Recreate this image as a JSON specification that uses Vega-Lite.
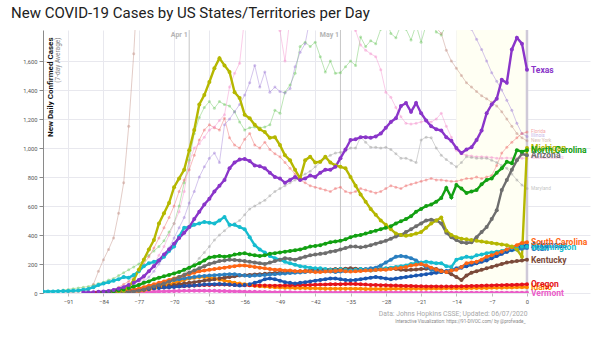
{
 "$schema": "https://vega.github.io/schema/vega-lite/v6.json",
 "width": 547, "height": 263,
 "autosize": {"type": "none"},
 "padding": {"left": 43, "top": 30, "right": 10, "bottom": 49},
 "background": "white",
 "config": {"view": {"stroke": null}, "font": "Roboto"},
 "title": {"text": "New COVID-19 Cases by US States/Territories per Day", "anchor": "start", "frame": "group", "fontSize": 15, "fontWeight": "normal", "color": "#212121", "dx": -32, "offset": 8},
 "datasets": {
  "names": [{"key":"TX","state":"Texas"},{"key":"NC","state":"North Carolina"},{"key":"MI","state":"Michigan"},{"key":"AZ","state":"Arizona"},{"key":"SC","state":"South Carolina"},{"key":"AR","state":"Arkansas"},{"key":"UT","state":"Utah"},{"key":"WA","state":"Washington"},{"key":"KY","state":"Kentucky"},{"key":"OR","state":"Oregon"},{"key":"ID","state":"Idaho"},{"key":"VT","state":"Vermont"},{"key":"FL","state":"Florida"},{"key":"IL","state":"Illinois"},{"key":"NY","state":"New York"},{"key":"MA","state":"Massachusetts"},{"key":"MD","state":"Maryland"},{"key":"CA","state":"California"}],
  "rows": [
{"day":-96,"WA":10,"CA":8},
{"day":-95,"WA":10,"CA":10},
{"day":-94,"WA":11,"CA":12},
{"day":-93,"WA":12,"CA":15},
{"day":-92,"WA":13,"CA":20,"NY":1},
{"day":-91,"WA":14,"CA":25,"NY":2},
{"day":-90,"WA":16,"CA":30,"NY":4},
{"day":-89,"WA":18,"CA":35,"NY":8},
{"day":-88,"WA":22,"CA":40,"NY":12,"TX":3},
{"day":-87,"WA":28,"CA":45,"NY":20,"TX":4},
{"day":-86,"WA":40,"CA":55,"NY":60,"TX":5,"OR":2},
{"day":-85,"WA":55,"CA":65,"NY":150,"TX":8,"OR":3,"NC":2,"FL":5},
{"day":-84,"WA":65,"CA":75,"NY":230,"TX":10,"OR":4,"NC":5,"FL":10,"AR":1,"KY":1,"VT":1},
{"day":-83,"WA":75,"CA":90,"NY":300,"TX":14,"OR":6,"NC":8,"FL":15,"AR":2,"KY":2,"VT":1},
{"day":-82,"WA":85,"CA":100,"NY":380,"TX":20,"OR":8,"NC":12,"FL":25,"AR":3,"KY":3,"VT":2,"SC":2,"ID":1,"UT":2,"IL":5,"MD":2},
{"day":-81,"WA":95,"CA":120,"NY":550,"TX":30,"OR":10,"NC":18,"FL":40,"AR":5,"KY":5,"VT":2,"SC":5,"ID":2,"UT":4,"IL":10,"MD":3,"MI":5},
{"day":-80,"WA":110,"CA":140,"NY":760,"TX":40,"OR":13,"NC":25,"FL":60,"AR":8,"KY":8,"VT":3,"SC":10,"ID":3,"UT":6,"IL":15,"MD":5,"MI":15,"AZ":2,"MA":10},
{"day":-79,"WA":105,"CA":160,"NY":1150,"TX":55,"OR":16,"NC":35,"FL":80,"AR":12,"KY":12,"VT":4,"SC":15,"ID":5,"UT":10,"IL":25,"MD":8,"MI":40,"AZ":5,"MA":20},
{"day":-78,"WA":125,"CA":180,"NY":1650,"TX":70,"OR":20,"NC":45,"FL":110,"AR":16,"KY":16,"VT":5,"SC":22,"ID":8,"UT":15,"IL":40,"MD":12,"MI":90,"AZ":10,"MA":40},
{"day":-77,"WA":150,"CA":200,"NY":2300,"TX":90,"OR":24,"NC":55,"FL":150,"AR":20,"KY":20,"VT":6,"SC":30,"ID":12,"UT":22,"IL":60,"MD":18,"MI":160,"AZ":15,"MA":65},
{"day":-76,"WA":185,"CA":230,"NY":3500,"TX":115,"OR":28,"NC":70,"FL":200,"AR":25,"KY":25,"VT":7,"SC":40,"ID":18,"UT":30,"IL":80,"MD":25,"MI":230,"AZ":25,"MA":100},
{"day":-75,"WA":205,"CA":260,"TX":150,"OR":32,"NC":80,"FL":250,"AR":28,"KY":30,"VT":8,"SC":50,"ID":25,"UT":40,"IL":110,"MD":35,"MI":300,"AZ":35,"MA":150},
{"day":-74,"WA":215,"CA":290,"TX":185,"OR":35,"NC":95,"FL":310,"AR":32,"KY":35,"VT":9,"SC":60,"ID":32,"UT":50,"IL":150,"MD":45,"MI":365,"AZ":45,"MA":200},
{"day":-73,"WA":225,"CA":320,"TX":225,"OR":38,"NC":105,"FL":380,"AR":35,"KY":40,"VT":10,"SC":70,"ID":40,"UT":60,"IL":200,"MD":55,"MI":480,"AZ":55,"MA":260},
{"day":-72,"WA":250,"CA":360,"TX":265,"OR":40,"NC":115,"FL":450,"AR":38,"KY":45,"VT":11,"SC":80,"ID":50,"UT":70,"IL":250,"MD":65,"MI":550,"AZ":65,"MA":320},
{"day":-71,"WA":290,"CA":420,"TX":300,"OR":42,"NC":125,"FL":520,"AR":40,"KY":50,"VT":12,"SC":90,"ID":60,"UT":80,"IL":310,"MD":75,"MI":620,"AZ":80,"MA":400},
{"day":-70,"WA":320,"CA":480,"NY":8000,"TX":340,"OR":44,"NC":135,"FL":600,"AR":42,"KY":55,"VT":13,"SC":100,"ID":70,"UT":90,"IL":380,"MD":90,"MI":730,"AZ":95,"MA":480},
{"day":-69,"WA":390,"CA":600,"TX":380,"OR":46,"NC":145,"FL":700,"AR":45,"KY":60,"VT":14,"SC":110,"ID":80,"UT":95,"IL":450,"MD":110,"MI":790,"AZ":110,"MA":560},
{"day":-68,"WA":450,"CA":760,"TX":415,"OR":48,"NC":160,"FL":780,"AR":48,"KY":65,"VT":15,"SC":120,"ID":90,"UT":100,"IL":520,"MD":135,"MI":850,"AZ":125,"MA":700},
{"day":-67,"WA":455,"CA":915,"TX":455,"OR":50,"NC":175,"FL":850,"AR":50,"KY":70,"VT":15,"SC":130,"ID":100,"UT":105,"IL":620,"MD":165,"MI":985,"AZ":140,"MA":900},
{"day":-66,"WA":470,"CA":1100,"TX":510,"OR":52,"NC":190,"FL":950,"AR":52,"KY":75,"VT":16,"SC":140,"ID":105,"UT":110,"IL":700,"MD":200,"MI":1125,"AZ":155,"MA":1000},
{"day":-65,"WA":480,"CA":1210,"TX":560,"OR":54,"NC":205,"FL":1055,"AR":55,"KY":80,"VT":16,"SC":150,"ID":110,"UT":115,"IL":800,"MD":240,"MI":1300,"AZ":170,"MA":1030},
{"day":-64,"WA":490,"CA":1280,"TX":610,"OR":55,"NC":225,"FL":1125,"AR":58,"KY":85,"VT":16,"SC":155,"ID":110,"UT":118,"IL":870,"MD":280,"MI":1365,"AZ":185,"MA":1075},
{"day":-63,"WA":485,"CA":1320,"TX":650,"OR":56,"NC":245,"FL":1160,"AR":60,"KY":90,"VT":15,"SC":160,"ID":105,"UT":120,"IL":930,"MD":320,"MI":1455,"AZ":200,"MA":1125},
{"day":-62,"WA":480,"CA":1275,"TX":700,"OR":57,"NC":250,"FL":1140,"AR":60,"KY":95,"VT":15,"SC":165,"ID":100,"UT":122,"IL":965,"MD":365,"MI":1550,"AZ":210,"MA":1145},
{"day":-61,"WA":500,"CA":1320,"TX":740,"OR":58,"NC":255,"FL":1125,"AR":62,"KY":100,"VT":14,"SC":170,"ID":92,"UT":125,"IL":900,"MD":400,"MI":1620,"AZ":220,"MA":1190},
{"day":-60,"WA":525,"CA":1300,"NY":9000,"TX":780,"OR":58,"NC":250,"FL":1205,"AR":60,"KY":105,"VT":13,"SC":175,"ID":85,"UT":128,"IL":1160,"MD":430,"MI":1570,"AZ":225,"MA":1230},
{"day":-59,"WA":470,"CA":1290,"TX":860,"OR":57,"NC":255,"FL":1070,"AR":58,"KY":110,"VT":12,"SC":180,"ID":78,"UT":130,"IL":1200,"MD":460,"MI":1525,"AZ":230,"MA":1420},
{"day":-58,"WA":470,"CA":1250,"TX":900,"OR":56,"NC":265,"FL":1020,"AR":55,"KY":115,"VT":11,"SC":185,"ID":70,"UT":130,"IL":1250,"MD":480,"MI":1385,"AZ":228,"MA":1515},
{"day":-57,"WA":455,"CA":1180,"TX":920,"OR":55,"NC":270,"FL":1000,"AR":52,"KY":120,"VT":10,"SC":190,"ID":65,"UT":125,"IL":1300,"MD":500,"MI":1345,"AZ":225,"MA":1585},
{"day":-56,"WA":440,"CA":1125,"TX":925,"OR":54,"NC":275,"FL":1060,"AR":55,"KY":122,"VT":9,"SC":190,"ID":60,"UT":120,"IL":1365,"MD":540,"MI":1230,"AZ":220,"MA":1900},
{"day":-55,"WA":385,"CA":1140,"TX":910,"OR":53,"NC":265,"FL":1100,"AR":60,"KY":125,"VT":8,"SC":185,"ID":55,"UT":118,"IL":1450,"MD":580,"MI":1205,"AZ":215},
{"day":-54,"WA":330,"CA":1145,"TX":880,"OR":52,"NC":260,"FL":1020,"AR":70,"KY":128,"VT":8,"SC":180,"ID":50,"UT":120,"IL":1570,"MD":600,"MI":1160,"AZ":210},
{"day":-53,"WA":300,"CA":1140,"TX":875,"OR":52,"NC":255,"FL":1000,"AR":80,"KY":130,"VT":7,"SC":175,"ID":47,"UT":122,"IL":1420,"MD":620,"MI":1130,"AZ":205,"MA":2300},
{"day":-52,"WA":280,"CA":1145,"TX":860,"OR":51,"NC":260,"FL":1040,"AR":95,"KY":132,"VT":7,"SC":170,"ID":45,"UT":125,"IL":1525,"MD":640,"MI":1110,"AZ":200},
{"day":-51,"WA":255,"CA":1160,"TX":830,"OR":50,"NC":270,"FL":990,"AR":100,"KY":135,"VT":6,"SC":165,"ID":42,"UT":128,"IL":1385,"MD":670,"MI":1070,"AZ":210},
{"day":-50,"WA":240,"CA":1260,"NY":6000,"TX":800,"OR":50,"NC":275,"FL":960,"AR":95,"KY":138,"VT":6,"SC":160,"ID":40,"UT":130,"IL":1420,"MD":700,"MI":1075,"AZ":220,"MA":1900},
{"day":-49,"WA":230,"CA":1240,"TX":790,"OR":50,"NC":280,"FL":940,"AR":85,"KY":140,"VT":5,"SC":160,"ID":38,"UT":132,"IL":1390,"MD":720,"MI":1020,"AZ":230,"MA":1810},
{"day":-48,"WA":215,"CA":1385,"TX":760,"OR":51,"NC":285,"FL":900,"AR":75,"KY":142,"VT":5,"SC":155,"ID":37,"UT":135,"IL":1380,"MD":740,"MI":950,"AZ":240,"MA":1600},
{"day":-47,"WA":205,"CA":1435,"TX":780,"OR":52,"NC":290,"FL":860,"AR":70,"KY":145,"VT":5,"SC":155,"ID":36,"UT":138,"IL":1410,"MD":760,"MI":915,"AZ":235,"MA":1900},
{"day":-46,"WA":195,"CA":1515,"TX":800,"OR":53,"NC":295,"FL":820,"AR":65,"KY":148,"VT":4,"SC":150,"ID":35,"UT":140,"IL":1560,"MD":780,"MI":850,"AZ":230},
{"day":-45,"WA":185,"CA":1700,"TX":780,"OR":54,"NC":300,"FL":780,"AR":70,"KY":150,"VT":4,"SC":150,"ID":35,"UT":142,"IL":1660,"MD":800,"MI":790,"AZ":240},
{"day":-44,"WA":180,"CA":1730,"TX":790,"OR":55,"NC":310,"FL":760,"AR":75,"KY":152,"VT":4,"SC":150,"ID":34,"UT":145,"IL":1720,"MD":820,"MI":915,"AZ":250},
{"day":-43,"WA":175,"CA":1700,"TX":810,"OR":56,"NC":320,"FL":740,"AR":80,"KY":155,"VT":4,"SC":148,"ID":33,"UT":148,"IL":1900,"MD":840,"MI":940,"AZ":260,"MA":2300},
{"day":-42,"WA":170,"CA":1730,"TX":800,"OR":57,"NC":325,"FL":730,"AR":85,"KY":158,"VT":3,"SC":145,"ID":32,"UT":150,"MD":870,"MI":900,"AZ":265},
{"day":-41,"WA":170,"CA":1630,"TX":830,"OR":58,"NC":330,"FL":720,"AR":90,"KY":160,"VT":3,"SC":145,"ID":31,"UT":152,"MD":900,"MI":905,"AZ":270},
{"day":-40,"WA":165,"CA":1525,"NY":4000,"TX":850,"OR":59,"NC":340,"FL":710,"AR":95,"KY":160,"VT":3,"SC":148,"ID":30,"UT":150,"IL":2200,"MD":930,"MI":940,"AZ":275},
{"day":-39,"WA":160,"CA":1600,"TX":850,"OR":60,"NC":350,"FL":700,"AR":100,"KY":162,"VT":3,"SC":150,"ID":30,"UT":148,"MD":950,"MI":900,"AZ":285},
{"day":-38,"WA":160,"CA":1515,"TX":870,"OR":60,"NC":355,"FL":720,"AR":100,"KY":165,"VT":3,"SC":152,"ID":30,"UT":145,"MD":965,"MI":880,"AZ":290,"MA":2100},
{"day":-37,"WA":165,"CA":1520,"TX":930,"OR":61,"NC":360,"FL":730,"AR":95,"KY":165,"VT":3,"SC":155,"ID":30,"UT":148,"MD":970,"MI":870,"AZ":300},
{"day":-36,"WA":160,"CA":1560,"TX":990,"OR":62,"NC":370,"FL":700,"AR":90,"KY":168,"VT":3,"SC":150,"ID":30,"UT":150,"MD":980,"MI":860,"AZ":310},
{"day":-35,"WA":155,"CA":1600,"TX":1055,"OR":63,"NC":385,"FL":690,"AR":88,"KY":170,"VT":3,"SC":148,"ID":30,"UT":155,"IL":2500,"MD":1000,"MI":800,"AZ":320,"MA":1900},
{"day":-34,"WA":160,"CA":1570,"TX":1060,"OR":62,"NC":395,"FL":700,"AR":90,"KY":168,"VT":3,"SC":150,"ID":29,"UT":158,"MD":1000,"MI":740,"AZ":320,"MA":1810},
{"day":-33,"WA":165,"CA":1765,"TX":1075,"OR":60,"NC":400,"FL":720,"AR":95,"KY":165,"VT":3,"SC":152,"ID":29,"UT":160,"MD":1075,"MI":680,"AZ":315,"MA":1710},
{"day":-32,"WA":160,"CA":1700,"TX":1075,"OR":58,"NC":410,"FL":710,"AR":100,"KY":162,"VT":3,"SC":155,"ID":28,"UT":165,"MD":1040,"MI":630,"AZ":320,"MA":1675},
{"day":-31,"WA":155,"CA":1740,"TX":1070,"OR":56,"NC":420,"FL":700,"AR":105,"KY":160,"VT":3,"SC":155,"ID":28,"UT":170,"MD":1005,"MI":580,"AZ":330,"MA":1650},
{"day":-30,"WA":160,"CA":1720,"NY":2500,"TX":1080,"OR":55,"NC":430,"FL":690,"AR":110,"KY":162,"VT":3,"SC":158,"ID":28,"UT":175,"IL":2600,"MD":1005,"MI":540,"AZ":340,"MA":1630},
{"day":-29,"WA":165,"CA":1820,"TX":1100,"OR":54,"NC":440,"FL":700,"AR":105,"KY":165,"VT":3,"SC":160,"ID":28,"UT":190,"MD":1000,"MI":500,"AZ":350,"MA":1540},
{"day":-28,"WA":170,"CA":1900,"TX":1140,"OR":53,"NC":450,"FL":720,"AR":100,"KY":168,"VT":3,"SC":160,"ID":28,"UT":210,"MD":1005,"MI":470,"AZ":360,"MA":1385},
{"day":-27,"WA":175,"CA":1790,"TX":1180,"OR":52,"NC":460,"FL":740,"AR":95,"KY":170,"VT":3,"SC":165,"ID":29,"UT":230,"MD":990,"MI":440,"AZ":375,"MA":1350},
{"day":-26,"WA":180,"CA":1760,"TX":1205,"OR":51,"NC":480,"FL":730,"AR":100,"KY":165,"VT":3,"SC":170,"ID":29,"UT":250,"MD":960,"MI":410,"AZ":390,"MA":1280},
{"day":-25,"WA":185,"CA":1850,"TX":1290,"OR":50,"NC":495,"FL":720,"AR":105,"KY":160,"VT":3,"SC":175,"ID":30,"UT":255,"IL":2500,"MD":930,"MI":400,"AZ":400,"MA":1215},
{"day":-24,"WA":190,"CA":1820,"TX":1310,"OR":49,"NC":510,"FL":740,"AR":110,"KY":158,"VT":3,"SC":180,"ID":30,"UT":250,"MD":930,"MI":395,"AZ":420,"MA":1170},
{"day":-23,"WA":200,"CA":1745,"TX":1250,"OR":48,"NC":530,"FL":750,"AR":115,"KY":160,"VT":3,"SC":190,"ID":30,"UT":240,"MD":915,"MI":400,"AZ":440,"MA":1165},
{"day":-22,"WA":205,"CA":1850,"NY":2000,"TX":1310,"OR":47,"NC":560,"FL":760,"AR":120,"KY":162,"VT":2,"SC":195,"ID":30,"UT":225,"MD":900,"MI":410,"AZ":460,"MA":1170},
{"day":-21,"WA":210,"CA":1730,"NY":1950,"TX":1240,"OR":46,"NC":580,"FL":770,"AR":125,"KY":165,"VT":2,"SC":200,"ID":30,"UT":200,"MD":1055,"MI":420,"AZ":480,"MA":1180},
{"day":-20,"WA":215,"CA":1850,"NY":1900,"TX":1190,"OR":45,"NC":600,"FL":780,"AR":130,"KY":168,"VT":2,"SC":190,"ID":30,"UT":180,"IL":2300,"MD":1075,"MI":450,"AZ":500,"MA":1190},
{"day":-19,"WA":210,"CA":1900,"NY":1870,"TX":1150,"OR":45,"NC":610,"FL":790,"AR":135,"KY":170,"VT":2,"SC":175,"ID":31,"UT":160,"MD":1070,"MI":480,"AZ":505,"MA":1180},
{"day":-18,"WA":205,"CA":1800,"NY":1830,"TX":1130,"OR":45,"NC":630,"FL":780,"AR":140,"KY":165,"VT":2,"SC":160,"ID":31,"UT":150,"MD":1000,"MI":500,"AZ":500,"MA":1200},
{"day":-17,"WA":205,"CA":1780,"NY":1790,"TX":1120,"OR":44,"NC":655,"FL":780,"AR":145,"KY":155,"VT":2,"SC":150,"ID":31,"UT":145,"MD":950,"MI":520,"AZ":480,"MA":1240},
{"day":-16,"WA":185,"CA":1850,"NY":1675,"TX":1075,"OR":44,"NC":725,"FL":775,"AR":150,"KY":145,"VT":2,"SC":145,"ID":32,"UT":150,"MD":920,"MI":430,"AZ":415,"MA":1150},
{"day":-15,"WA":180,"CA":2000,"NY":1600,"TX":1050,"OR":45,"NC":660,"FL":770,"AR":155,"KY":130,"VT":2,"SC":155,"ID":32,"UT":160,"IL":2000,"MD":895,"MI":400,"AZ":385,"MA":1075},
{"day":-14,"WA":230,"NY":1550,"TX":1000,"OR":45,"NC":745,"FL":770,"AR":165,"KY":110,"VT":2,"SC":160,"ID":32,"UT":170,"MD":870,"MI":385,"AZ":365,"MA":985},
{"day":-13,"WA":240,"NY":1500,"TX":965,"OR":46,"NC":720,"FL":780,"AR":175,"KY":90,"VT":2,"SC":180,"ID":33,"UT":180,"MD":900,"MI":375,"AZ":350,"MA":960},
{"day":-12,"WA":250,"NY":1450,"TX":990,"OR":47,"NC":690,"FL":790,"AR":185,"KY":120,"VT":2,"SC":205,"ID":33,"UT":190,"IL":1900,"MD":940,"MI":370,"AZ":345,"MA":950},
{"day":-11,"WA":245,"NY":1420,"TX":1005,"OR":48,"NC":700,"FL":790,"AR":195,"KY":140,"VT":2,"SC":210,"ID":34,"UT":200,"IL":1820,"MD":935,"MI":365,"AZ":350,"MA":945},
{"day":-10,"WA":260,"CA":2300,"NY":1390,"TX":1055,"OR":49,"NC":710,"FL":800,"AR":205,"KY":150,"VT":2,"SC":215,"ID":34,"UT":210,"IL":1750,"MD":930,"MI":360,"AZ":385,"MA":940},
{"day":-9,"WA":265,"NY":1360,"TX":1120,"OR":50,"NC":750,"FL":790,"AR":215,"KY":160,"VT":2,"SC":230,"ID":35,"UT":220,"IL":1680,"MD":930,"MI":355,"AZ":420,"MA":940},
{"day":-8,"WA":275,"NY":1340,"TX":1240,"OR":51,"NC":780,"FL":800,"AR":225,"KY":170,"VT":2,"SC":250,"ID":35,"UT":230,"IL":1600,"MD":930,"MI":350,"AZ":455,"MA":938},
{"day":-7,"WA":280,"NY":1315,"TX":1300,"OR":52,"NC":790,"FL":810,"AR":240,"KY":180,"VT":2,"SC":260,"ID":36,"UT":245,"IL":1520,"MD":915,"MI":345,"AZ":510,"MA":935},
{"day":-6,"WA":285,"NY":1290,"TX":1340,"OR":53,"NC":830,"FL":880,"AR":255,"KY":190,"VT":2,"SC":275,"ID":36,"UT":260,"IL":1460,"MD":900,"MI":340,"AZ":570,"MA":930},
{"day":-5,"WA":290,"CA":2500,"NY":1250,"TX":1470,"OR":54,"NC":860,"FL":965,"AR":270,"KY":200,"VT":2,"SC":285,"ID":37,"UT":275,"IL":1400,"MD":880,"MI":335,"AZ":710,"MA":930},
{"day":-4,"WA":300,"NY":1200,"TX":1450,"OR":55,"NC":905,"FL":1005,"AR":285,"KY":210,"VT":2,"SC":300,"ID":38,"UT":285,"IL":1330,"MD":860,"MI":330,"AZ":780,"MA":932},
{"day":-3,"WA":310,"NY":1150,"TX":1680,"OR":56,"NC":895,"FL":1040,"AR":300,"KY":215,"VT":2,"SC":315,"ID":38,"UT":295,"IL":1260,"MD":820,"MI":320,"AZ":850,"MA":930},
{"day":-2,"WA":315,"NY":1100,"TX":1760,"OR":57,"NC":985,"FL":1070,"AR":315,"KY":220,"VT":2,"SC":330,"ID":39,"UT":300,"IL":1170,"MD":780,"MI":300,"AZ":915,"MA":930},
{"day":-1,"WA":320,"NY":1070,"TX":1720,"OR":58,"NC":975,"FL":1100,"AR":325,"KY":225,"VT":2,"SC":345,"ID":40,"UT":305,"IL":1100,"MD":745,"MI":250,"AZ":960,"MA":930},
{"day":0,"WA":320,"CA":2700,"NY":1050,"TX":1540,"OR":60,"NC":985,"FL":1110,"AR":330,"KY":230,"VT":2,"SC":350,"ID":40,"UT":310,"IL":1080,"MD":720,"MI":1000,"AZ":950,"MA":930}
  ]
 },
 "data": {"name": "rows"},
 "transform": [
  {"fold": ["CA","NY","IL","FL","MA","MD","VT","ID","OR","KY","UT","AR","WA","SC","AZ","MI","NC","TX"], "as": ["key","cases"]},
  {"filter": "isValid(datum.cases)"},
  {"lookup": "key", "from": {"data": {"name": "names"}, "key": "key", "fields": ["state"]}}
 ],
 "resolve": {"axis": {"x": "independent", "y": "independent"}},
 "layer": [
  {
   "data": {"values": [{"start": -14, "end": 0}]},
   "mark": {"type": "rect", "color": "#fffff3"},
   "encoding": {
    "x": {"field": "start", "type": "quantitative", "scale": {"domain": [-96, 12.5], "nice": false, "zero": false}, "axis": null},
    "x2": {"field": "end"}
   }
  },
  {
   "data": {"values": [{"day": -67, "label": "Apr 1"}, {"day": -37, "label": "May 1"}, {"day": 0, "label": "Jun 7"}]},
   "mark": {"type": "rule"},
   "encoding": {
    "x": {"field": "day", "type": "quantitative", "scale": {"domain": [-96, 12.5], "nice": false, "zero": false},
      "axis": {"orient": "top", "values": [-67, -37, 0], "labelExpr": "datum.value == -67 ? 'Apr 1' : datum.value == -37 ? 'May 1' : 'Jun 7'", "domain": false, "ticks": false, "tickSize": 0, "grid": false, "labelFontSize": 7, "labelFontWeight": "bold", "labelColor": "#b4b4b4", "labelAlign": "right", "labelBaseline": "top", "labelPadding": 0, "labelOffset": -2, "title": null}},
    "color": {"condition": {"test": "datum.day == 0", "value": "#cfc9d8"}, "value": "#c6c6c6"},
    "strokeWidth": {"condition": {"test": "datum.day == 0", "value": 2.5}, "value": 1}
   }
  },
  {
   "transform": [{"filter": {"field": "key", "oneOf": ["CA","NY","IL","FL","MA","MD"]}}],
   "mark": {"type": "line", "strokeWidth": 1, "opacity": 0.45, "clip": true},
   "encoding": {
    "x": {"field": "day", "type": "quantitative", "scale": {"domain": [-96, 12.5], "nice": false, "zero": false},
      "axis": {"orient": "bottom", "values": [-91,-84,-77,-70,-63,-56,-49,-42,-35,-28,-21,-14,-7,0], "grid": true, "gridColor": "#e8e8ee", "domain": false, "ticks": true, "tickSize": 3, "tickColor": "#bbbbbb", "labelFontSize": 5.8, "labelColor": "#555555", "labelPadding": 2, "title": "Data: Johns Hopkins CSSE; Updated: 06/07/2020", "titleFontSize": 6.8, "titleFontWeight": "normal", "titleColor": "#a8a8a8", "titleAnchor": null, "titleAlign": "right", "titleBaseline": "alphabetic", "titleX": 484, "titleY": 22}},
    "y": {"field": "cases", "type": "quantitative", "scale": {"domain": [0, 1814], "nice": false, "zero": false},
      "axis": {"orient": "left", "values": [0,200,400,600,800,1000,1200,1400,1600], "format": ",d", "grid": true, "gridColor": "#e8e8ee", "domain": true, "domainColor": "#8a8a8a", "ticks": true, "tickSize": 4, "tickColor": "#8a8a8a", "labelFontSize": 5.8, "labelColor": "#555555", "labelPadding": 2, "title": "New Daily Confirmed Cases", "titleFontSize": 8, "titleFontWeight": "bold", "titleColor": "#111111", "titleAngle": -90, "titleAlign": "right", "titleBaseline": "top", "titleAnchor": null, "titleX": 3, "titleY": 7}},
    "color": {"field": "key", "type": "nominal", "legend": null,
      "scale": {"domain": ["CA","NY","IL","FL","MA","MD","VT","ID","OR","KY","UT","AR","WA","SC","AZ","MI","NC","TX"],
                "range": ["#6cc860","#c08f82","#a07fd6","#ee6a6a","#f38fcd","#a0a0a0","#ea5cc8","#ff8a00","#e5121b","#7b4a3a","#2a7fc0","#1a56b0","#16bccf","#ff6614","#6e6e6e","#b5b700","#12a012","#8a35c9"]}}
   }
  },
  {
   "transform": [{"filter": {"field": "key", "oneOf": ["CA","NY","IL","FL","MA","MD"]}}],
   "mark": {"type": "point", "filled": true, "size": 9, "opacity": 0.45, "clip": true},
   "encoding": {
    "x": {"field": "day", "type": "quantitative", "scale": {"domain": [-96, 12.5], "nice": false, "zero": false}, "axis": null},
    "y": {"field": "cases", "type": "quantitative", "scale": {"domain": [0, 1814], "nice": false, "zero": false}, "axis": null},
    "color": {"field": "key", "type": "nominal", "legend": null}
   }
  },
  {
   "transform": [{"filter": {"field": "key", "oneOf": ["VT","ID","OR","KY","UT","AR","WA","SC","AZ","MI","NC","TX"]}}],
   "mark": {"type": "line", "strokeWidth": 2.4, "clip": true},
   "encoding": {
    "x": {"field": "day", "type": "quantitative", "scale": {"domain": [-96, 12.5], "nice": false, "zero": false}, "axis": null},
    "y": {"field": "cases", "type": "quantitative", "scale": {"domain": [0, 1814], "nice": false, "zero": false}, "axis": null},
    "color": {"field": "key", "type": "nominal", "legend": null}
   }
  },
  {
   "transform": [{"filter": {"field": "key", "oneOf": ["VT","ID","OR","KY","UT","AR","WA","SC","AZ","MI","NC","TX"]}}],
   "mark": {"type": "point", "filled": true, "size": 16, "opacity": 1, "clip": true},
   "encoding": {
    "x": {"field": "day", "type": "quantitative", "scale": {"domain": [-96, 12.5], "nice": false, "zero": false}, "axis": null},
    "y": {"field": "cases", "type": "quantitative", "scale": {"domain": [0, 1814], "nice": false, "zero": false}, "axis": null},
    "color": {"field": "key", "type": "nominal", "legend": null}
   }
  },
  {
   "transform": [{"filter": "datum.day == 0 && datum.cases <= 1814"}, {"filter": {"field": "key", "oneOf": ["NY","IL","FL","MA","MD"]}}],
   "mark": {"type": "text", "align": "left", "baseline": "middle", "dx": 4, "fontSize": 4.8, "opacity": 0.6},
   "encoding": {
    "x": {"field": "day", "type": "quantitative", "scale": {"domain": [-96, 12.5], "nice": false, "zero": false}, "axis": null},
    "y": {"field": "cases", "type": "quantitative", "scale": {"domain": [0, 1814], "nice": false, "zero": false}, "axis": null},
    "text": {"field": "state"},
    "color": {"field": "key", "type": "nominal", "legend": null}
   }
  },
  {
   "transform": [{"filter": "datum.day == 0 && datum.cases <= 1814"}, {"filter": {"field": "key", "oneOf": ["VT","ID","OR","KY","UT","AR","WA","SC","AZ","MI","NC","TX"]}}],
   "mark": {"type": "text", "align": "left", "baseline": "middle", "dx": 4, "fontSize": 8.5, "fontWeight": "bold"},
   "encoding": {
    "x": {"field": "day", "type": "quantitative", "scale": {"domain": [-96, 12.5], "nice": false, "zero": false},
      "axis": {"orient": "bottom", "labels": false, "ticks": false, "domain": false, "grid": false, "title": "Interactive Visualization: https://91-DIVOC.com/ by @profwade_", "titleFontSize": 4.6, "titleFontWeight": "normal", "titleColor": "#888888", "titleAnchor": null, "titleAlign": "right", "titleBaseline": "alphabetic", "titleX": 482, "titleY": 29}},
    "y": {"field": "cases", "type": "quantitative", "scale": {"domain": [0, 1814], "nice": false, "zero": false},
      "axis": {"orient": "left", "labels": false, "ticks": false, "domain": false, "grid": false, "title": "(7-day Average)", "titleFontSize": 6.5, "titleFontWeight": "normal", "titleColor": "#8a8a8a", "titleAngle": -90, "titleAlign": "right", "titleBaseline": "top", "titleAnchor": null, "titleX": 11, "titleY": 7}},
    "text": {"field": "state"},
    "color": {"field": "key", "type": "nominal", "legend": null}
   }
  }
 ]
}
